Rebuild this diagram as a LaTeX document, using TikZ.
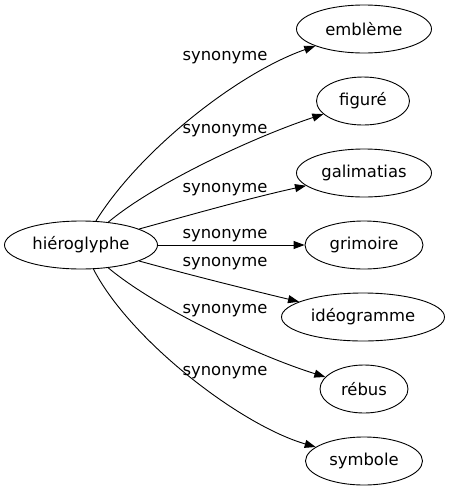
\documentclass[tikz,border=0pt]{standalone}
\usepackage{fontspec}
\setmainfont{DejaVu Sans}
\usetikzlibrary{shapes.geometric,arrows.meta}
\begin{document}
\begin{tikzpicture}[x=1pt,y=-1pt,
  word/.style={ellipse,draw,line width=0.9pt,inner sep=0pt,minimum height=48pt,font=\fontsize{16.4}{18}\selectfont},
  rel/.style={line width=0.9pt,-{Triangle[length=11pt,width=8pt]}},
  lab/.style={font=\fontsize{16.4}{18}\selectfont,inner sep=0pt}]
\useasboundingbox (0,0) rectangle (450,491);
\node[word,minimum width=153pt] (h) at (81,245) {hiéroglyphe};
\node[word,minimum width=135pt] (a) at (364,29) {emblème};
\node[word,minimum width=93pt] (b) at (363,101) {figuré};
\node[word,minimum width=135pt] (c) at (364,173) {galimatias};
\node[word,minimum width=118pt] (d) at (364,245) {grimoire};
\node[word,minimum width=163pt] (e) at (363,317) {idéogramme};
\node[word,minimum width=88pt] (f) at (364,389) {rébus};
\node[word,minimum width=117pt] (g) at (364,461) {symbole};
\draw[rel] (h) .. controls (140,150) and (238,73) .. (a);
\draw[rel] (h) .. controls (155,183) and (254,137) .. (b);
\draw[rel] (h) .. controls (190,215) and (250,198) .. (c);
\draw[rel] (h) -- (d);
\draw[rel] (h) .. controls (190,275) and (250,290) .. (e);
\draw[rel] (h) .. controls (155,307) and (255,355) .. (f);
\draw[rel] (h) .. controls (130,340) and (240,425) .. (g);
\node[lab] (l1) at (225,58) {synonyme};
\node[lab] (l2) at (225,131) {synonyme};
\node[lab] (l3) at (225,190) {synonyme};
\node[lab] (l4) at (225,236) {synonyme};
\node[lab] (l5) at (225,264) {synonyme};
\node[lab] (l6) at (225,311) {synonyme};
\node[lab] (l7) at (225,373) {synonyme};
\end{tikzpicture}
\end{document}
